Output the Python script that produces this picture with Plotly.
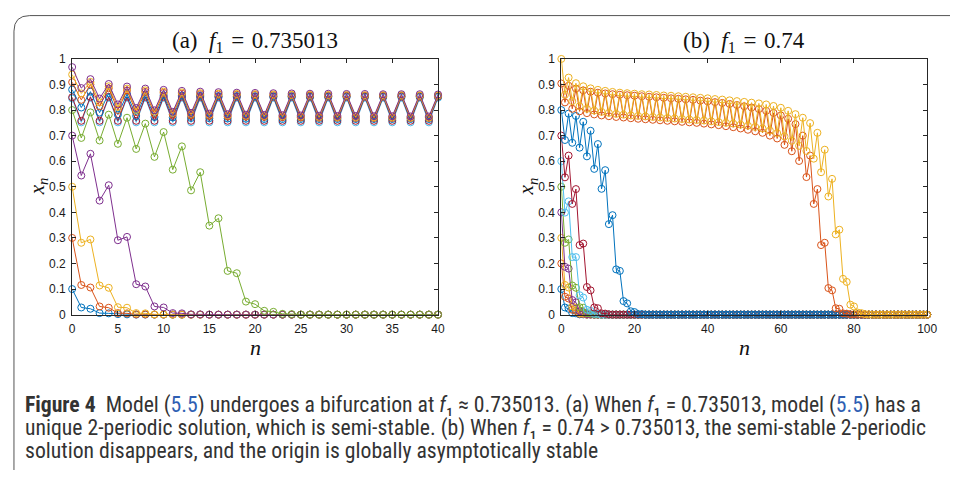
import plotly.graph_objects as go

# page body has an 8px margin: figure occupies screen x 8..950, y 8..470
OFF = 8
W, H = 958 - 2 * OFF, 478 - 2 * OFF

# ---------------- data: panel (a), f1 = 0.735013, n = 0..40 ----------------
n_a = list(range(41))
a_blue_01 = [0.1, 0.028, 0.023, 0.006, 0.005, 0.002, 0.001] + [0.0] * 34
a_orange_03 = [0.3, 0.116, 0.106, 0.032, 0.027, 0.006, 0.005, 0.001, 0.001] + [0.0] * 32
a_yellow_05 = [0.5, 0.281, 0.294, 0.114, 0.105, 0.029, 0.027, 0.006, 0.005, 0.001, 0.001] + [0.0] * 30
a_purple_07 = [0.7, 0.544, 0.629, 0.446, 0.506, 0.291, 0.304, 0.119, 0.110, 0.032, 0.028,
               0.006, 0.005, 0.001, 0.001] + [0.0] * 26
a_green_08 = [0.8, 0.691, 0.791, 0.681, 0.782, 0.668, 0.770, 0.648, 0.747, 0.617, 0.714,
              0.567, 0.658, 0.486, 0.557, 0.348, 0.377, 0.171, 0.162, 0.051, 0.041,
              0.015, 0.011, 0.003, 0.002] + [0.0] * 16
a_lblue_085 = [0.845] + [0.752, 0.848] * 20
a_dred_085 = [0.85] + [0.758, 0.852] * 20
a_blue_088 = [0.88, 0.81, 0.872, 0.79, 0.866, 0.782, 0.862, 0.777, 0.86, 0.773, 0.858,
              0.771, 0.857, 0.769, 0.856, 0.768, 0.855, 0.767, 0.855, 0.766, 0.854] + [0.765, 0.854] * 10
a_orange_091 = [0.909, 0.84, 0.9, 0.815, 0.885, 0.8, 0.877, 0.792, 0.871, 0.786, 0.867,
                0.782, 0.864, 0.779, 0.862, 0.777, 0.861, 0.775, 0.86, 0.774, 0.859,
                0.773, 0.858, 0.772, 0.858, 0.771, 0.857, 0.77, 0.857, 0.77, 0.856] + [0.769, 0.856] * 5
a_yellow_094 = [0.939, 0.865, 0.91, 0.83, 0.893, 0.812, 0.884, 0.801, 0.877, 0.794, 0.872,
                0.789, 0.869, 0.785, 0.866, 0.782, 0.864, 0.78, 0.863, 0.778, 0.862,
                0.777, 0.861, 0.776, 0.86, 0.775, 0.86, 0.774, 0.859, 0.773, 0.859,
                0.773, 0.858, 0.772, 0.858, 0.772, 0.858, 0.771, 0.857, 0.771, 0.857]
a_purple_097 = [0.968, 0.886, 0.921, 0.845, 0.902, 0.822, 0.892, 0.808, 0.884, 0.799, 0.879,
                0.793, 0.875, 0.789, 0.872, 0.786, 0.87, 0.784, 0.868, 0.782, 0.867,
                0.781, 0.866, 0.78, 0.865, 0.779, 0.864, 0.778, 0.864, 0.777, 0.863,
                0.777, 0.863, 0.776, 0.862, 0.776, 0.862, 0.775, 0.862, 0.775, 0.861]

# ---------------- data: panel (b), f1 = 0.74, n = 0..100 ----------------
n_b = list(range(101))
b_blue_01 = [0.1, 0.028, 0.023, 0.006, 0.005, 0.001, 0.001] + [0.0] * 94
b_orange_02 = [0.2, 0.07, 0.063, 0.019, 0.015, 0.003, 0.003] + [0.0] * 94
b_yellow_03 = [0.3, 0.116, 0.106, 0.032, 0.027, 0.006, 0.005, 0.001, 0.001] + [0.0] * 92
b_purple_04 = [0.4, 0.187, 0.18, 0.057, 0.048, 0.013, 0.01, 0.002, 0.002] + [0.0] * 92
b_green_05 = [0.5, 0.281, 0.294, 0.114, 0.105, 0.029, 0.027, 0.006, 0.005, 0.001, 0.001] + [0.0] * 90
b_lblue_06 = [0.6, 0.399, 0.443, 0.225, 0.225, 0.076, 0.067, 0.019, 0.015, 0.003, 0.003] + [0.0] * 90
b_dred_07 = [0.7, 0.537, 0.622, 0.433, 0.491, 0.272, 0.278, 0.108, 0.095, 0.028, 0.025,
             0.005, 0.004, 0.001] + [0.0] * 87
b_blue_08 = [0.8, 0.683, 0.786, 0.672, 0.777, 0.653, 0.754, 0.619, 0.719, 0.570, 0.667,
             0.492, 0.565, 0.354, 0.389, 0.177, 0.171, 0.053, 0.044, 0.013, 0.010,
             0.002, 0.002] + [0.0] * 78
b_orange_09 = [0.904, 0.83, 0.895, 0.805, 0.884, 0.795, 0.877, 0.788, 0.872, 0.783,
               0.868, 0.779, 0.865, 0.776, 0.862, 0.773, 0.86, 0.771, 0.858, 0.768,
               0.856, 0.766, 0.854, 0.764, 0.852, 0.762, 0.85, 0.76, 0.848, 0.758,
               0.846, 0.756, 0.844, 0.754, 0.842, 0.752, 0.84, 0.75, 0.837, 0.747,
               0.834, 0.744, 0.831, 0.741, 0.828, 0.737, 0.824, 0.733, 0.82, 0.728,
               0.815, 0.723, 0.81, 0.717, 0.804, 0.711, 0.797, 0.70, 0.789, 0.689,
               0.779, 0.664, 0.766, 0.639, 0.745, 0.601, 0.70, 0.538, 0.622, 0.433,
               0.491, 0.272, 0.281, 0.104, 0.095, 0.025, 0.023, 0.005, 0.004, 0.001,
               0.001] + [0.0] * 20
b_yellow_10 = [1.0, 0.86, 0.927, 0.835, 0.905, 0.815, 0.893, 0.805, 0.885, 0.798,
               0.879, 0.793, 0.875, 0.789, 0.871, 0.785, 0.868, 0.782, 0.866, 0.779,
               0.864, 0.777, 0.862, 0.775, 0.861, 0.773, 0.859, 0.771, 0.857, 0.769,
               0.856, 0.767, 0.854, 0.765, 0.852, 0.763, 0.85, 0.761, 0.848, 0.759,
               0.846, 0.756, 0.843, 0.753, 0.841, 0.75, 0.838, 0.747, 0.835, 0.743,
               0.832, 0.739, 0.829, 0.734, 0.826, 0.728, 0.822, 0.72, 0.816, 0.71,
               0.809, 0.697, 0.797, 0.68, 0.784, 0.66, 0.77, 0.64, 0.749, 0.61,
               0.711, 0.557, 0.645, 0.462, 0.531, 0.314, 0.332, 0.14, 0.128, 0.039,
               0.032, 0.008, 0.006, 0.002, 0.001] + [0.0] * 16

x_ticks_a = [0, 5, 10, 15, 20, 25, 30, 35, 40]
x_ticks_b = [0, 20, 40, 60, 80, 100]
y_ticks = [0, 0.1, 0.2, 0.3, 0.4, 0.5, 0.6, 0.7, 0.8, 0.9, 1]
y_tick_text = ["0", "0.1", "0.2", "0.3", "0.4", "0.5", "0.6", "0.7", "0.8", "0.9", "1"]

BLUE, ORANGE, YELLOW, PURPLE = "#0072BD", "#D95319", "#EDB120", "#7E2F8E"
GREEN, LBLUE, DRED = "#77AC30", "#4DBEEE", "#A2142F"

series_a = [(a_blue_01, BLUE), (a_orange_03, ORANGE), (a_yellow_05, YELLOW),
            (a_purple_07, PURPLE), (a_green_08, GREEN), (a_lblue_085, LBLUE),
            (a_dred_085, DRED), (a_blue_088, BLUE), (a_orange_091, ORANGE),
            (a_yellow_094, YELLOW), (a_purple_097, PURPLE)]
series_b = [(b_blue_01, BLUE), (b_orange_02, ORANGE), (b_yellow_03, YELLOW),
            (b_purple_04, PURPLE), (b_green_05, GREEN), (b_lblue_06, LBLUE),
            (b_dred_07, DRED), (b_blue_08, BLUE), (b_orange_09, ORANGE),
            (b_yellow_10, YELLOW)]

fig = go.Figure()
for ys, c in series_a:
    fig.add_trace(go.Scatter(x=n_a, y=ys, mode="lines+markers", xaxis="x", yaxis="y",
                             line=dict(color=c, width=1),
                             marker=dict(symbol="circle-open", size=7, color=c, line=dict(width=1)),
                             cliponaxis=False, showlegend=False))
for ys, c in series_b:
    fig.add_trace(go.Scatter(x=n_b, y=ys, mode="lines+markers", xaxis="x2", yaxis="y2",
                             line=dict(color=c, width=1),
                             marker=dict(symbol="circle-open", size=7, color=c, line=dict(width=1)),
                             cliponaxis=False, showlegend=False))


def px(x):
    """screen x (reference pixels) -> paper fraction"""
    return (x - OFF) / W


def py(y):
    """screen y (reference pixels) -> paper fraction"""
    return 1 - (y - OFF) / H


ydom = [py(317), py(53.3)]
axis_common = dict(showline=True, linecolor="#262626", linewidth=1, mirror="ticks",
                   ticks="inside", ticklen=4, tickcolor="#262626", showgrid=False,
                   zeroline=False,
                   tickfont=dict(family="Liberation Sans, Arial", size=12, color="#1a1a1a"))

fig.update_layout(
    width=W, height=H, margin=dict(l=0, r=0, t=0, b=0),
    paper_bgcolor="white", plot_bgcolor="white", showlegend=False,
    xaxis=dict(domain=[px(70), px(441)], range=[0, 40], tickvals=x_ticks_a,
               anchor="y", ticklabelstandoff=3, **axis_common),
    yaxis=dict(domain=ydom, range=[0, 1], tickvals=y_ticks, ticktext=y_tick_text,
               anchor="x", ticklabelstandoff=3, **axis_common),
    xaxis2=dict(domain=[px(566), px(937)], range=[0, 100], tickvals=x_ticks_b,
                anchor="y2", ticklabelstandoff=3, **axis_common),
    yaxis2=dict(domain=ydom, range=[0, 1], tickvals=y_ticks, ticktext=y_tick_text,
                anchor="x2", ticklabelstandoff=3, **axis_common),
)

serif = "Liberation Serif, DejaVu Serif, serif"
ink = "#111111"
EN, THK = "\u2002", "\u2004"
ann = []
ann.append(dict(x=px(255.5), y=py(36),
                text="(a)" + EN + "<i>f</i><sub>1</sub>" + THK + "=" + THK + "0.735013",
                font=dict(family=serif, size=23, color=ink)))
ann.append(dict(x=px(751.5), y=py(36),
                text="(b)" + EN + "<i>f</i><sub>1</sub>" + THK + "=" + THK + "0.74",
                font=dict(family=serif, size=23, color=ink)))
ann.append(dict(x=px(255.5), y=py(351), text="<i>n</i>", font=dict(family=serif, size=22, color=ink)))
ann.append(dict(x=px(751.5), y=py(351), text="<i>n</i>", font=dict(family=serif, size=22, color=ink)))
ann.append(dict(x=px(35), y=py(185), text="<i>x<sub>n</sub></i>", textangle=-90,
                font=dict(family=serif, size=21, color=ink)))
ann.append(dict(x=px(531), y=py(185), text="<i>x<sub>n</sub></i>", textangle=-90,
                font=dict(family=serif, size=21, color=ink)))

cap_font = dict(family="Liberation Sans Narrow, Roboto Condensed, Liberation Sans, sans-serif",
                size=21.7, color="#333333")
link = "<span style='color:#2f5fb3'>5.5</span>"
f1 = "<i>f</i>\u2081"
cap_lines = [
    "<b>Figure 4</b>\u00a0\u00a0Model (" + link + ") undergoes a bifurcation at " + f1 +
    " \u2248 0.735013. (a) When " + f1 + " = 0.735013, model (" + link + ") has a",
    "unique 2-periodic solution, which is semi-stable. (b) When " + f1 +
    " = 0.74 > 0.735013, the semi-stable 2-periodic",
    "solution disappears, and the origin is globally asymptotically stable",
]
for i, t in enumerate(cap_lines):
    ann.append(dict(x=px(20), y=py(410 + 23.5 * i), text=t, xanchor="left", font=cap_font))

for a in ann:
    a.setdefault("xanchor", "center")
    a.update(xref="paper", yref="paper", yanchor="middle", showarrow=False)
fig.update_layout(annotations=ann)

# rounded frame around the figure (top-left corner)
r = 16
x0 = px(11)
yt = 1 - 0.6 / H
path = (f"M {x0},-0.05 L {x0},{1 - (0.6 + r) / H} Q {x0},{yt} {px(11 + r)},{yt} L 1.05,{yt}")
fig.add_shape(type="path", path=path, xref="paper", yref="paper",
              line=dict(color="#555555", width=1))

fig.write_html("out.html")
